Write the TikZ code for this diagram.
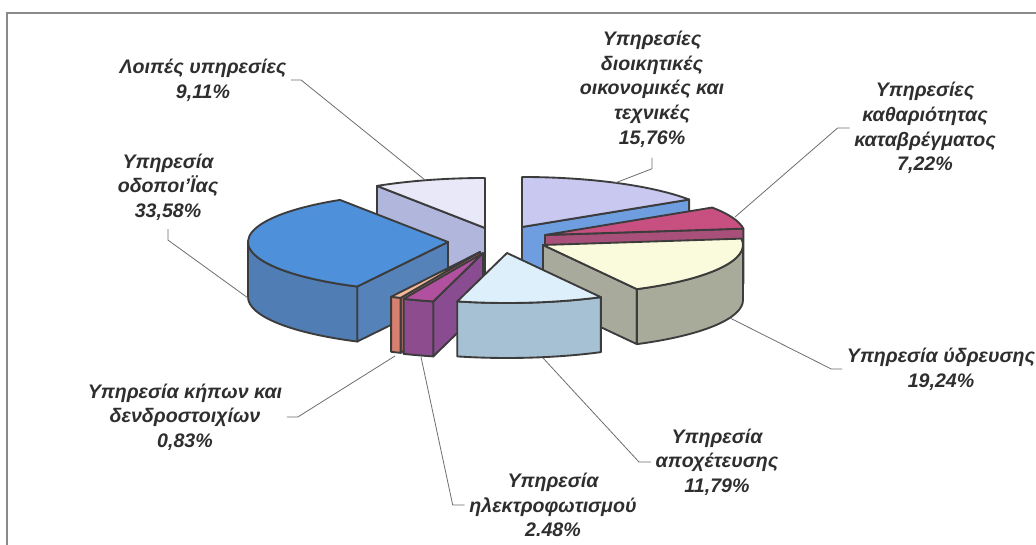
\documentclass[tikz,border=0pt]{standalone}
\usepackage{fontspec}
\setmainfont{Liberation Sans}
\usetikzlibrary{calc}

\definecolor{pedge}{HTML}{3C3C3C}
\definecolor{ptext}{HTML}{2E2E2E}
\definecolor{pleader}{HTML}{6E6E6E}
\definecolor{pframe}{HTML}{8A8A8A}
\definecolor{proadtop}{HTML}{4E90DA}
\definecolor{proadside}{HTML}{507DB4}
\definecolor{proadface}{HTML}{5682BA}
\definecolor{presttop}{HTML}{E8E8F8}
\definecolor{prestface}{HTML}{B0B6DC}
\definecolor{padmtop}{HTML}{C8C8F0}
\definecolor{padmface}{HTML}{6E9EE0}
\definecolor{pcleantop}{HTML}{C85080}
\definecolor{pcleanface}{HTML}{A8507A}
\definecolor{pwatertop}{HTML}{FAFADC}
\definecolor{pwaterside}{HTML}{A9AB9A}
\definecolor{pwaterface}{HTML}{A8AA9C}
\definecolor{psewertop}{HTML}{DCEFFA}
\definecolor{psewerside}{HTML}{A6C0D4}
\definecolor{plighttop}{HTML}{B0509E}
\definecolor{plightside}{HTML}{8C4C8E}
\definecolor{plightface}{HTML}{8A4C90}
\definecolor{pparktop}{HTML}{F4B89A}
\definecolor{pparkside}{HTML}{D88070}
\definecolor{pparkface}{HTML}{D0786A}

\newcommand{\lblfont}{\fontsize{14.7}{18.5}\selectfont\bfseries\itshape}

% top face: apex, start angle, end angle, colour
\newcommand{\pietop}[4]{%
  \filldraw[slice, fill=#4] (#1) -- ++(#2:200 and 50) arc[start angle=#2, end angle=#3, x radius=200, y radius=50] -- cycle;}
% cut face: apex, angle, colour
\newcommand{\pieface}[3]{%
  \filldraw[slice, fill=#3] (#1) -- ++(#2:200 and 50) -- ++(0,-55) -- ($(#1)+(0,-55)$) -- cycle;}
% rim (front part only): apex, start angle, end angle, colour
\newcommand{\pieside}[4]{%
  \filldraw[slice, fill=#4] ($(#1)+(#2:200 and 50)$) arc[start angle=#2, end angle=#3, x radius=200, y radius=50] -- ++(0,-55) arc[start angle=#3, end angle=#2, x radius=200, y radius=50] -- cycle;}

\tikzset{
  slice/.style={draw=pedge, line width=1.4pt, line join=round},
  lbl/.style={font=\lblfont, text=ptext, align=center},
  leader/.style={draw=pleader, line width=0.6pt},
  frame/.style={draw=pframe, line width=1pt}
}

\begin{document}
\begin{tikzpicture}[x=0.75pt, y=0.75pt]
  \useasboundingbox (0,0) rectangle (1036,545);
  \fill[white] (0,0) rectangle (1036,545);
  \draw[frame] (7,0) -- (7,532) -- (1036,532);

  % apexes of the exploded slices
  \coordinate (c-rest) at (485,317);
  \coordinate (c-adm) at (522,318);
  \coordinate (c-clean) at (545,310);
  \coordinate (c-water) at (543,300);
  \coordinate (c-road) at (448,303);
  \coordinate (c-park) at (480,293);
  \coordinate (c-light) at (483,292);
  \coordinate (c-sewer) at (507,292);

  % back to front
  \pieface{c-rest}{122.7}{prestface}
  \pietop{c-rest}{90}{122.7}{presttop}

  \pieface{c-adm}{33.3}{padmface}
  \pietop{c-adm}{33.3}{90}{padmtop}

  \pieface{c-clean}{7.3}{pcleanface}
  \pietop{c-clean}{7.3}{33.3}{pcleantop}

  \pieface{c-water}{-62}{pwaterface}
  \pieside{c-water}{-62}{0}{pwaterside}
  \pietop{c-water}{-62}{7.3}{pwatertop}

  \pieface{c-road}{243}{proadface}
  \pieside{c-road}{180}{243}{proadside}
  \pietop{c-road}{122.7}{243}{proadtop}

  \pieface{c-park}{-113.4}{pparkface}
  \pieside{c-park}{-116.4}{-113.4}{pparkside}
  \pietop{c-park}{-116.4}{-113.4}{pparktop}

  \pieface{c-light}{-104.4}{plightface}
  \pieside{c-light}{-113.4}{-104.4}{plightside}
  \pietop{c-light}{-113.4}{-104.4}{plighttop}

  \pieside{c-sewer}{-104.4}{-62}{psewerside}
  \pietop{c-sewer}{-104.4}{-62}{psewertop}

  % labels
  \node[lbl] (l-rest) at (203,465) {Λοιπές υπηρεσίες\\9,11\%};
  \node[lbl] (l-road) at (168,358) {Υπηρεσία\\οδοποι'Ϊας\\33,58\%};
  \node[lbl] (l-adm) at (652,456) {Υπηρεσίες\\διοικητικές\\οικονομικές και\\τεχνικές\\15,76\%};
  \node[lbl] (l-clean) at (925,417) {Υπηρεσίες\\καθαριότητας\\καταβρέγματος\\7,22\%};
  \node[lbl] (l-water) at (941,176) {Υπηρεσία ύδρευσης\\19,24\%};
  \node[lbl] (l-sewer) at (717,83) {Υπηρεσία\\αποχέτευσης\\11,79\%};
  \node[lbl] (l-light) at (553,40) {Υπηρεσία\\ηλεκτροφωτισμού\\2.48\%};
  \node[lbl] (l-park) at (185,128) {Υπηρεσία κήπων και\\δενδροστοιχίων\\0,83\%};

  % leader ends on the slices
  \coordinate (t-rest) at (425,365);
  \coordinate (t-road) at (248,247);
  \coordinate (t-adm) at (615,362);
  \coordinate (t-clean) at (735,328);
  \coordinate (t-water) at (730,227);
  \coordinate (t-sewer) at (543,187);
  \coordinate (t-light) at (421,188);
  \coordinate (t-park) at (395,189);

  \draw[leader] (l-rest.east) -- ++(10,0) -- (t-rest);
  \draw[leader] ($(l-road.south)+(0,-4)$) -- ++(0,-11) -- (t-road);
  \draw[leader] ($(l-adm.south)+(0,-6)$) -- ++(0,-11) -- (t-adm);
  \draw[leader] (l-clean.west) -- ++(-12,0) -- (t-clean);
  \draw[leader] (l-water.west) -- ++(-11,0) -- (t-water);
  \draw[leader] (l-sewer.west) -- ++(-12,0) -- (t-sewer);
  \draw[leader] (l-light.west) -- ++(-12,0) -- (t-light);
  \draw[leader] (l-park.east) -- ++(11,0) -- (t-park);
\end{tikzpicture}
\end{document}
